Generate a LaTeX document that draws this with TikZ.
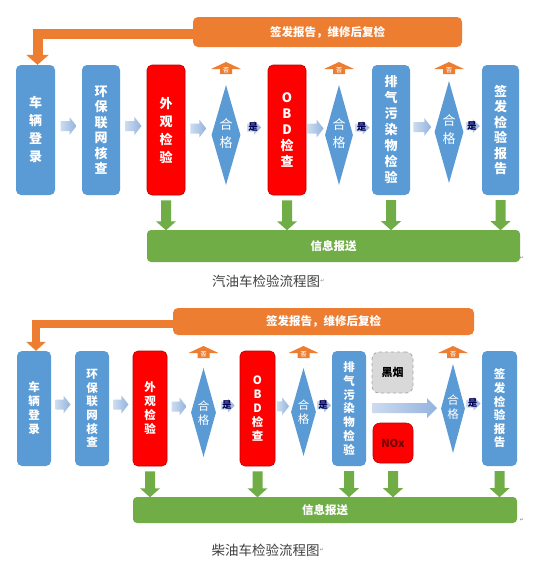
\documentclass[tikz,border=0pt]{standalone}
\usepackage{fontspec}
\newfontfamily\cjk{Noto Sans CJK SC}
\newfontfamily\djv{DejaVu Sans}
\usetikzlibrary{shapes.geometric,arrows.meta,calc}
\definecolor{bblue}{HTML}{5B9BD5}
\definecolor{bred}{HTML}{FF0000}
\definecolor{borange}{HTML}{ED7D31}
\definecolor{bgreen}{HTML}{70AD47}
\definecolor{lab1}{HTML}{CCDCF0}
\definecolor{lab2}{HTML}{94B3DD}
\definecolor{capgray}{HTML}{404040}
\definecolor{smokegray}{HTML}{D9D9D9}
\tikzset{
  box/.style={rounded corners=5pt, inner sep=0pt, text=white, align=center},
  tbox/.style={box, minimum height=130pt, font=\cjk\bfseries\fontsize{13}{16}\selectfont},
  lbox/.style={box, minimum height=115pt, font=\cjk\bfseries\fontsize{11.5}{14}\selectfont},
  blue/.style={fill=bblue},
  redb/.style={fill=bred, draw=bred!75!black, line width=0.6pt},
  dia/.style={diamond, fill=bblue, inner sep=0pt},
  dtext/.style={text=white, align=center, inner sep=0pt},
  obar/.style={fill=borange, rounded corners=5pt, text=white, font=\cjk\bfseries\fontsize{11.5}{13}\selectfont, inner sep=0pt},
  gbar/.style={fill=bgreen, rounded corners=4pt, text=white, font=\cjk\bfseries\fontsize{11.5}{13}\selectfont, inner sep=0pt},
  oarrow/.style={draw=borange, line join=miter},
  caption/.style={text=capgray, font=\cjk\fontsize{13.5}{15}\selectfont, inner sep=0pt},
  pmark/.style={text=gray, font=\djv\fontsize{5}{6}\selectfont, inner sep=0pt},
  pics/rarr/.style={code={
    \shade[left color=lab1, right color=lab2]
      (-#1/2,-5)--(#1/2-7,-5)--(#1/2-7,-9)--(#1/2,0)--(#1/2-7,9)--(#1/2-7,5)--(-#1/2,5)--cycle;}},
  pics/gdown/.style={code={
    \fill[bgreen] (-5,0)--(5,0)--(5,#1-9)--(10,#1-9)--(0,#1)--(-10,#1-9)--(-5,#1-9)--cycle;}},
  pics/fou/.style={code={
    \fill[borange] (-6,0)--(6,0)--(6,-5)--(15,-5)--(0,-12)--(-15,-5)--(-6,-5)--cycle;
    \node[text=white!75!borange, font=\cjk\bfseries\fontsize{6}{6}\selectfont, inner sep=0pt] at (0,-4) {否};}},
  pics/shi/.style={code={
    \shade[left color=lab1, right color=lab2] (-7,-4)--(0,-4)--(0,-7)--(7,0)--(0,7)--(0,4)--(-7,4)--cycle;
    \node[text=blue!35!black, font=\cjk\bfseries\fontsize{9.5}{9.5}\selectfont, inner sep=0pt] at (-1,0) {是};}},
}
\begin{document}
\begin{tikzpicture}[x=1pt,y=-1pt]
\useasboundingbox[fill=white] (0,0) rectangle (554,566);

%================ TOP: gasoline ================
\node[tbox,blue,minimum width=39pt,font=\cjk\bfseries\fontsize{13}{18}\selectfont] (t1) at (35.5,130) {车\\辆\\登\\录};
\node[tbox,blue,minimum width=38pt,font=\cjk\bfseries\fontsize{13}{15.5}\selectfont] (t2) at (101,130) {环\\保\\联\\网\\核\\查};
\node[tbox,redb,minimum width=38pt,font=\cjk\bfseries\fontsize{13}{18}\selectfont] (t3) at (166,130) {外\\观\\检\\验};
\node[dia,minimum width=29pt,minimum height=100pt] (td1) at (226,135) {};
\node[dtext,font=\cjk\fontsize{13}{18}\selectfont] (td1t) at (226,134) {合\\格};
\node[tbox,redb,minimum width=38pt,font=\cjk\bfseries\fontsize{13}{16}\selectfont] (t4) at (287,130) {O\\B\\D\\检\\查};
\node[dia,minimum width=28pt,minimum height=100pt] (td2) at (339,135) {};
\node[dtext,font=\cjk\fontsize{13}{18}\selectfont] (td2t) at (339,134) {合\\格};
\node[tbox,blue,minimum width=38pt,font=\cjk\bfseries\fontsize{13}{16}\selectfont] (t5) at (391,130) {排\\气\\污\\染\\物\\检\\验};
\node[dia,minimum width=29pt,minimum height=102pt] (td3) at (449,132) {};
\node[dtext,font=\cjk\fontsize{13}{18}\selectfont] (td3t) at (449,130) {合\\格};
\node[tbox,blue,minimum width=37pt,font=\cjk\bfseries\fontsize{13}{15.5}\selectfont] (t6) at (500.5,130) {签\\发\\检\\验\\报\\告};

% orange feedback
\draw[oarrow,line width=10pt,-{Triangle[width=22pt,length=10pt]}] ([yshift=-2pt]327.5,32) -| ([xshift=2pt]t1.north);
\node[obar,minimum width=269pt,minimum height=30pt] (tbar) at (327.5,32) {签发报告，维修后复检};
% green bar
\node[gbar,minimum width=373pt,minimum height=32pt] (tgbar) at (333.5,246) {信息报送};

% light arrows
\pic at ($(t1.east)!0.5!(t2.west)+(0,-4)$) {rarr=16};
\pic at ($(t2.east)!0.5!(t3.west)+(0,-4)$) {rarr=16};
\pic at ($(t3.east)!0.5!(td1.west)+(0,-4)$) {rarr=16};
\pic at ($(t4.east)!0.5!(td2.west)+(0,-4)$) {rarr=16};
\pic at ($(t5.east)!0.5!(td3.west)+(0,-4)$) {rarr=18};
% yes arrows
\pic at ($(td1.east)!0.5!(t4.west)+(0,-5)$) {shi};
\pic at ($(td2.east)!0.5!(t5.west)+(0,-5)$) {shi};
\pic at ($(td3.east)!0.5!(t6.west)+(0,-5)$) {shi};
% no arrows
\pic at (226,74) {fou};
\pic at (339,74) {fou};
\pic at (449,74) {fou};
% green down arrows
\pic at ($(t3.south)+(0,5)$) {gdown=30};
\pic at ($(t4.south)+(0,5)$) {gdown=30};
\pic at ($(t5.south)+(0,5)$) {gdown=30};
\pic at ($(t6.south)+(0,5)$) {gdown=30};

\node[caption] (tcap) at (266,281) {汽油车检验流程图};
\node[pmark,anchor=west] (tcapm) at (tcap.east) {↵};
\node[pmark] (tbarm) at (522,258) {↵};

%================ BOTTOM: diesel ================
\node[lbox,blue,minimum width=34pt] (b1) at (34,408.5) {车\\辆\\登\\录};
\node[lbox,blue,minimum width=34pt,font=\cjk\bfseries\fontsize{11.5}{13.6}\selectfont] (b2) at (92,408.5) {环\\保\\联\\网\\核\\查};
\node[lbox,redb,minimum width=34pt] (b3) at (150,408.5) {外\\观\\检\\验};
\node[dia,minimum width=25pt,minimum height=89pt] (bd1) at (203.5,412.5) {};
\node[dtext,font=\cjk\fontsize{11.5}{14}\selectfont] (bd1t) at (203.5,413) {合\\格};
\node[lbox,redb,minimum width=35pt] (b4) at (257.5,408.5) {O\\B\\D\\检\\查};
\node[dia,minimum width=25pt,minimum height=88pt] (bd2) at (303.5,412) {};
\node[dtext,font=\cjk\fontsize{11.5}{14}\selectfont] (bd2t) at (303.5,412) {合\\格};
\node[lbox,blue,minimum width=34pt,font=\cjk\bfseries\fontsize{11.5}{13.8}\selectfont] (b5) at (349,408.5) {排\\气\\污\\染\\物\\检\\验};
\node[rounded corners=7pt, fill=smokegray, draw=gray!70, dashed, line width=0.8pt, minimum width=41pt, minimum height=41pt, inner sep=0pt, font=\cjk\bfseries\fontsize{11}{13}\selectfont] (smk) at (392.5,372.5) {黑烟};
\node[rounded corners=7pt, redb, minimum width=40pt, minimum height=40pt, inner sep=0pt, text=bred!45!black, font=\cjk\bfseries\fontsize{11}{13}\selectfont] (nox) at (393,443) {NOx};
\node[dia,minimum width=24pt,minimum height=89pt] (bd3) at (453,408.5) {};
\node[dtext,font=\cjk\fontsize{11.5}{14}\selectfont] (bd3t) at (453,407) {合\\格};
\node[lbox,blue,minimum width=35pt,font=\cjk\bfseries\fontsize{11.5}{13.6}\selectfont] (b6) at (499.5,408.5) {签\\发\\检\\验\\报\\告};

% orange feedback
\draw[oarrow,line width=8pt,-{Triangle[width=19pt,length=9pt]}] ([yshift=-2.5pt]323.5,321.5) -| ([xshift=2pt]b1.north);
\node[obar,minimum width=301pt,minimum height=27pt] (bbar) at (323.5,321.5) {签发报告，维修后复检};
% green bar
\node[gbar,minimum width=384pt,minimum height=26pt] (bgbar) at (325,510) {信息报送};

% light arrows
\pic at ($(b1.east)!0.5!(b2.west)+(0,-4)$) {rarr=15};
\pic at ($(b2.east)!0.5!(b3.west)+(0,-4)$) {rarr=15};
\pic at ($(b3.east)!0.5!(bd1.west)+(0,-4)$) {rarr=15};
\pic at ($(b4.east)!0.5!(bd2.west)+(0,-4)$) {rarr=12};
% wide arrow across emissions
\shade[left color=lab1, right color=lab2] (372,403)--(427,403)--(427,398)--(437,408)--(427,418)--(427,413)--(372,413)--cycle;
% yes arrows
\pic at ($(bd1.east)!0.5!(b4.west)+(0,-5)$) {shi};
\pic at ($(bd2.east)!0.5!(b5.west)+(0,-5)$) {shi};
\pic at ($(bd3.east)!0.5!(b6.west)+(0,-5)$) {shi};
% no arrows
\pic at (203.5,358) {fou};
\pic at (303.5,358) {fou};
\pic at (453,358) {fou};
% green down arrows
\pic at ($(b3.south)+(0,5)$) {gdown=26};
\pic at ($(b4.south)+(0,5)$) {gdown=26};
\pic at ($(b5.south)+(0,5)$) {gdown=26};
\pic at ($(nox.south |- b5.south)+(0,5)$) {gdown=26};
\pic at ($(b6.south)+(0,5)$) {gdown=26};

\node[caption] (bcap) at (265.5,550) {柴油车检验流程图};
\node[pmark,anchor=west] (bcapm) at (bcap.east) {↵};
\node[pmark] (bbarm) at (522,520) {↵};
\end{tikzpicture}
\end{document}
